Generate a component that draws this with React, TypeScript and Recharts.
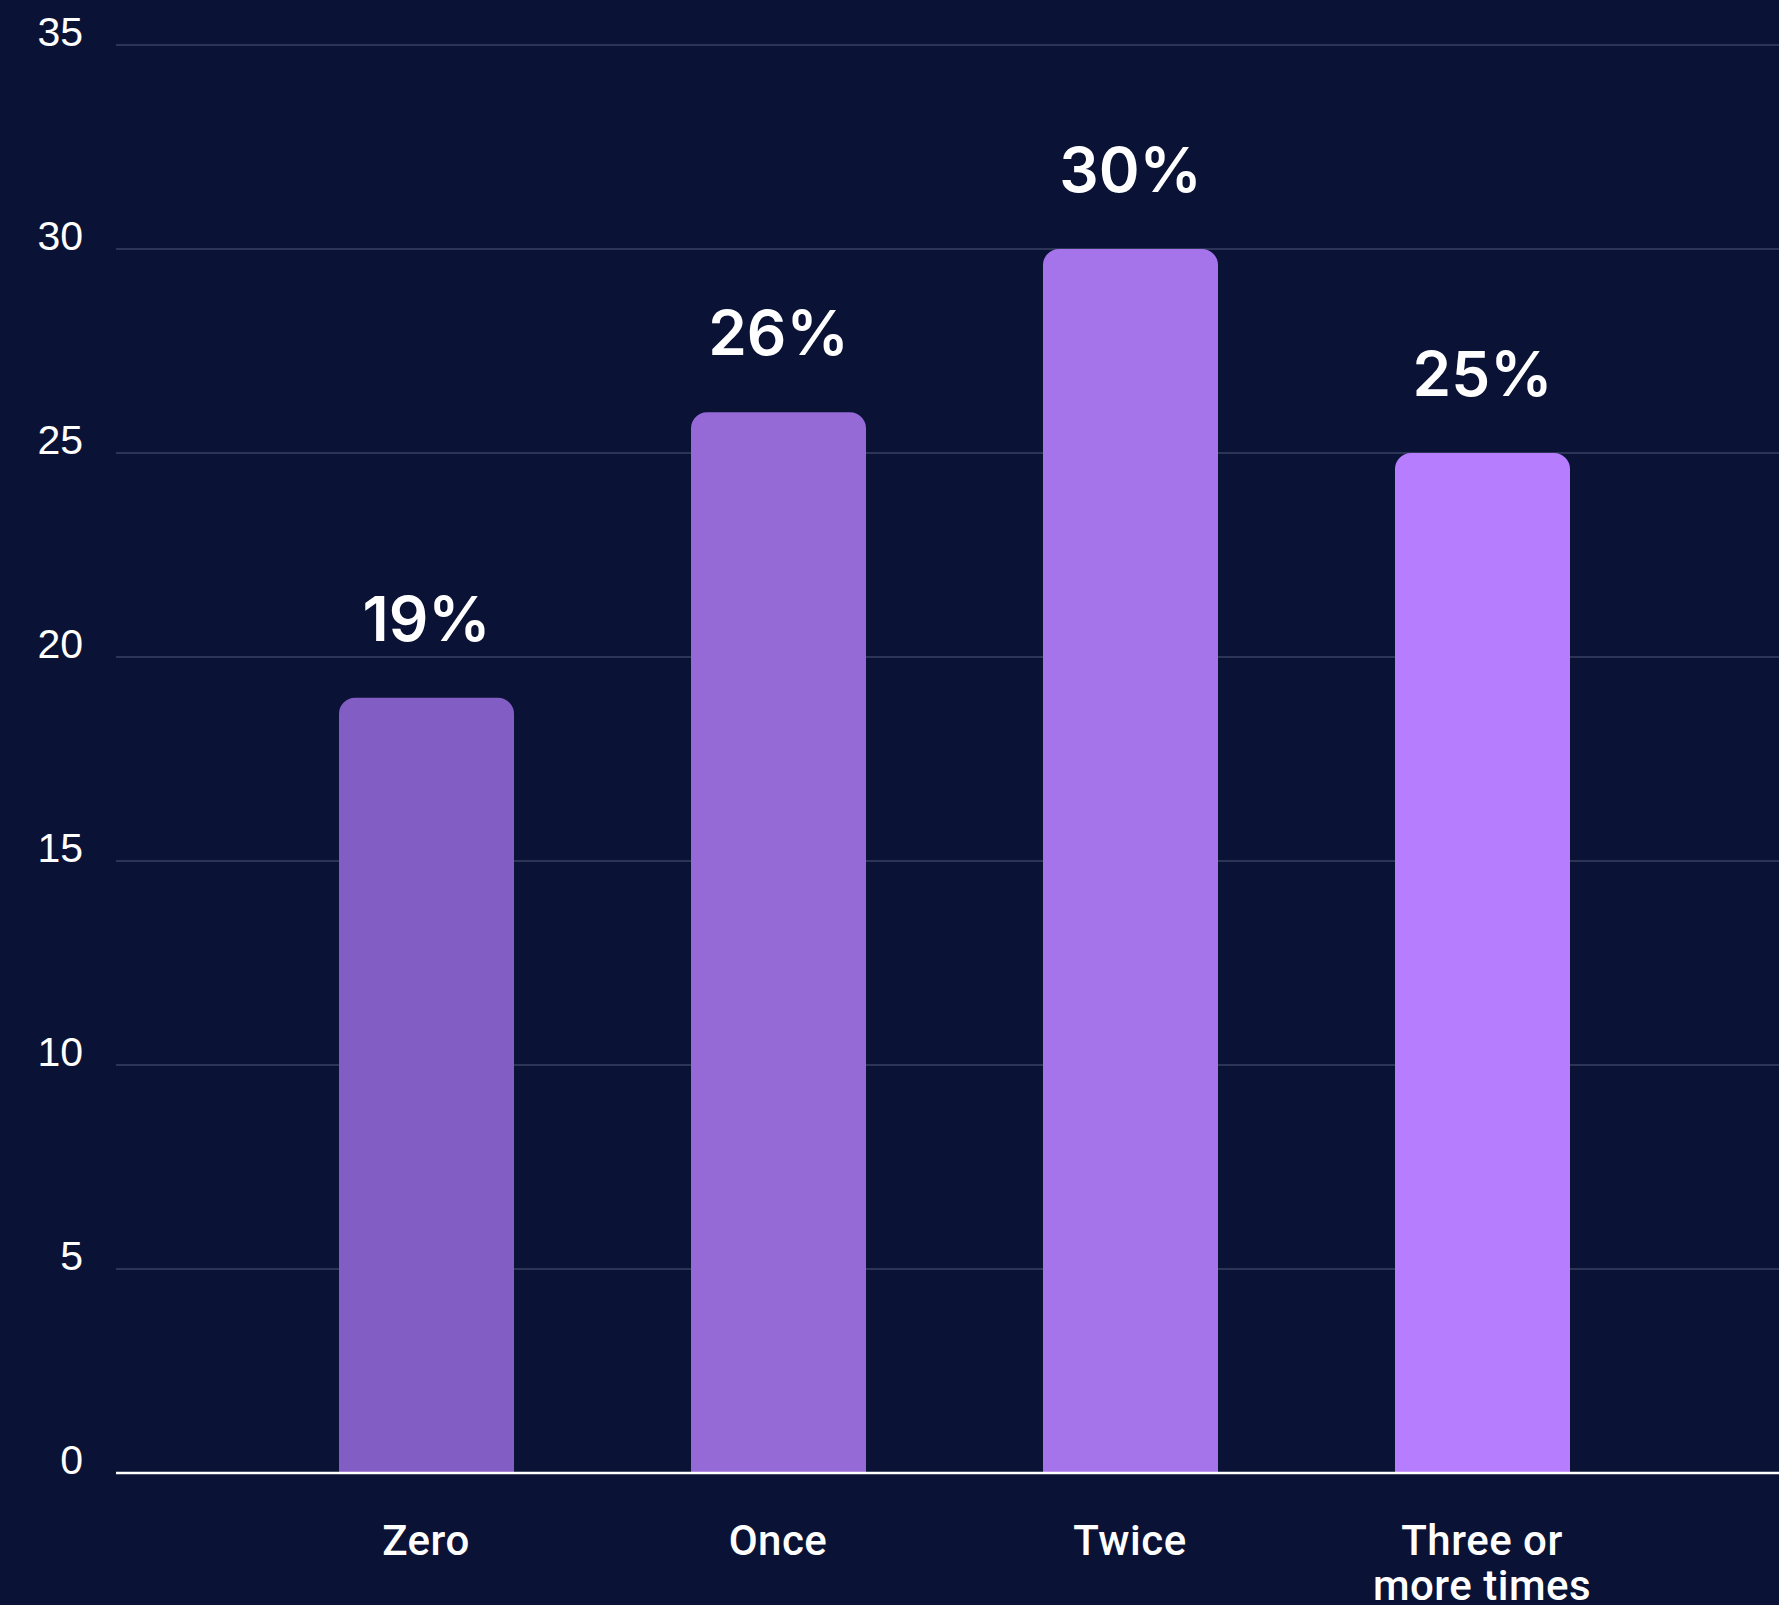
import { BarChart, Bar, XAxis, YAxis, CartesianGrid, LabelList, Cell } from 'recharts'

const categories = ['Zero', 'Once', 'Twice', 'Three or more times']
const shares = [19, 26, 30, 25]
const yTicks = [0, 5, 10, 15, 20, 25, 30, 35]

const BAR_COLORS = ['#825dc3', '#9569d6', '#a574ea', '#b67dfe']
const BG = '#0a1235'

const data = categories.map((name, i) => ({ name, value: shares[i] }))

// break long category names into lines of at most 10 characters
function wrapLabel(label: string, max = 10): string[] {
  const lines: string[] = []
  let current = ''
  for (const word of label.split(' ')) {
    const next = current ? `${current} ${word}` : word
    if (next.length > max && current) {
      lines.push(current)
      current = word
    } else {
      current = next
    }
  }
  if (current) lines.push(current)
  return lines
}

function CategoryTick({ x, y, payload }: any) {
  const lines = wrapLabel(String(payload.value))
  return (
    <text
      x={x}
      y={y + 82}
      textAnchor="middle"
      fill="#ffffff"
      style={{ fontFamily: 'Roboto, sans-serif', fontSize: 42, fontWeight: 500, letterSpacing: 0.5 }}
    >
      {lines.map((line, i) => (
        <tspan key={line} x={x} dy={i === 0 ? 0 : 45}>
          {line}
        </tspan>
      ))}
    </text>
  )
}

function ValueTick({ y, payload }: any) {
  return (
    <text
      x={83}
      y={y - 13}
      textAnchor="end"
      dominantBaseline="central"
      fill="#ffffff"
      style={{ fontFamily: '"Liberation Sans", Arial, sans-serif', fontSize: 41 }}
    >
      {payload.value}
    </text>
  )
}

export default function App() {
  return (
    <div style={{ position: 'fixed', left: 0, top: 0, width: 1779, height: 1605, background: BG }}>
      <BarChart
        width={1779}
        height={1605}
        data={data}
        margin={{ top: 45, right: 0, left: 0, bottom: 0 }}
        barSize={175}
      >
        <CartesianGrid vertical={false} stroke="#3a4263" strokeWidth={1.5} />
        <XAxis
          dataKey="name"
          height={132}
          interval={0}
          padding={{ left: 134, right: 121 }}
          tickLine={false}
          tickSize={0}
          tickMargin={0}
          axisLine={{ stroke: '#ffffff', strokeWidth: 2.5 }}
          tick={<CategoryTick />}
        />
        <YAxis
          width={116}
          domain={[0, 35]}
          ticks={yTicks}
          axisLine={false}
          tickLine={false}
          tick={<ValueTick />}
        />
        <Bar dataKey="value" radius={[16, 16, 0, 0]} isAnimationActive={false}>
          {data.map((d, i) => (
            <Cell key={d.name} fill={BAR_COLORS[i]} />
          ))}
          <LabelList
            dataKey="value"
            position="top"
            offset={57}
            formatter={(v: any) => `${v}%`}
            fill="#ffffff"
            style={{ fontFamily: 'Inter, sans-serif', fontSize: 62, fontWeight: 600 }}
          />
        </Bar>
      </BarChart>
    </div>
  )
}
